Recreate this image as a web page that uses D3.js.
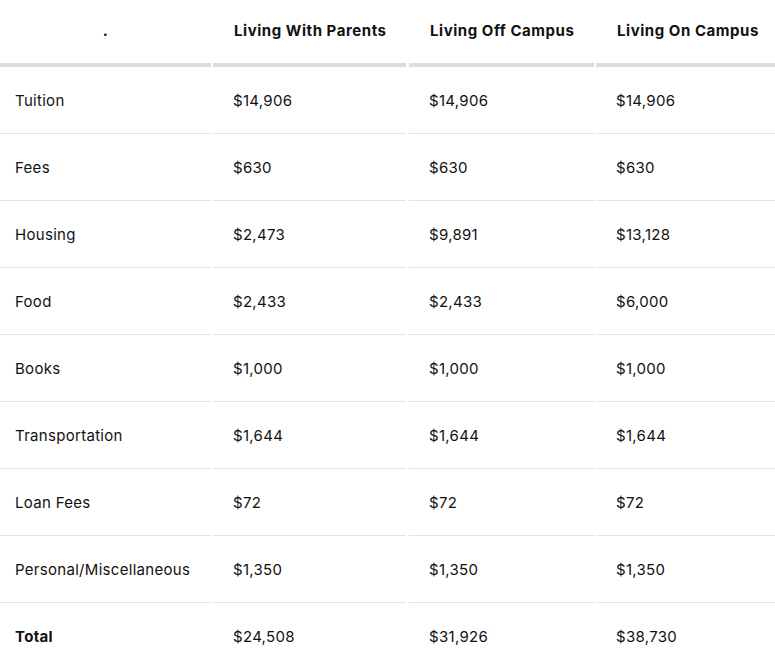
<!DOCTYPE html>
<html><head><meta charset="utf-8">
<script src="https://cdn.jsdelivr.net/npm/d3@7"></script>
<style>body{margin:0;background:#fff;} text{font-family:Inter,"Noto Sans",sans-serif;fill:#111;}</style>
</head><body>
<svg id="chart" width="775" height="663"></svg>
<script>
// Table data
var headers = [".", "Living With Parents", "Living Off Campus", "Living On Campus"];
var categories = ["Tuition", "Fees", "Housing", "Food", "Books", "Transportation", "Loan Fees", "Personal/Miscellaneous", "Total"];
var withParents = ["$14,906", "$630", "$2,473", "$2,433", "$1,000", "$1,644", "$72", "$1,350", "$24,508"];
var offCampus = ["$14,906", "$630", "$9,891", "$2,433", "$1,000", "$1,644", "$72", "$1,350", "$31,926"];
var onCampus = ["$14,906", "$630", "$13,128", "$6,000", "$1,000", "$1,644", "$72", "$1,350", "$38,730"];

var svg = d3.select("#chart");
var colLeft = [0, 213, 409, 596], colRight = [211, 406, 594, 775];
var headH = 65, rowH = 67;
var y = d3.scaleBand().domain(d3.range(categories.length)).range([headH + 2, headH + 2 + rowH * categories.length]);

// header
svg.selectAll("text.head").data(headers).join("text")
  .attr("class", "head")
  .attr("x", function(d, i) { return i == 0 ? (colLeft[0] + colRight[0]) / 2 : colLeft[i] + 21; })
  .attr("y", 36)
  .attr("text-anchor", function(d, i) { return i == 0 ? "middle" : "start"; })
  .style("font-size", "15px").style("font-weight", "700").style("letter-spacing", "0.55px")
  .text(function(d) { return d; });

// thick header rule
colLeft.forEach(function(l, i) {
  svg.append("rect").attr("x", l).attr("y", 63).attr("width", colRight[i] - l).attr("height", 4).attr("fill", "#dcdcdc");
});

// row rules
d3.range(1, categories.length).forEach(function(r) {
  colLeft.forEach(function(l, i) {
    svg.append("rect").attr("x", l).attr("y", y(r) - 1).attr("width", colRight[i] - l).attr("height", 1).attr("fill", "#e4e4e4");
  });
});

var cols = [categories, withParents, offCampus, onCampus];
cols.forEach(function(col, c) {
  svg.selectAll("text.c" + c).data(col).join("text")
    .attr("class", "c" + c)
    .attr("x", c == 0 ? 15 : colLeft[c] + 20)
    .attr("y", function(d, i) { return y(i) + y.bandwidth() / 2 + 5; })
    .style("font-size", "15px").style("letter-spacing", "0.3px")
    .style("font-weight", function(d, i) { return c == 0 && i == categories.length - 1 ? "700" : "400"; })
    .text(function(d) { return d; });
});
</script>
</body></html>
